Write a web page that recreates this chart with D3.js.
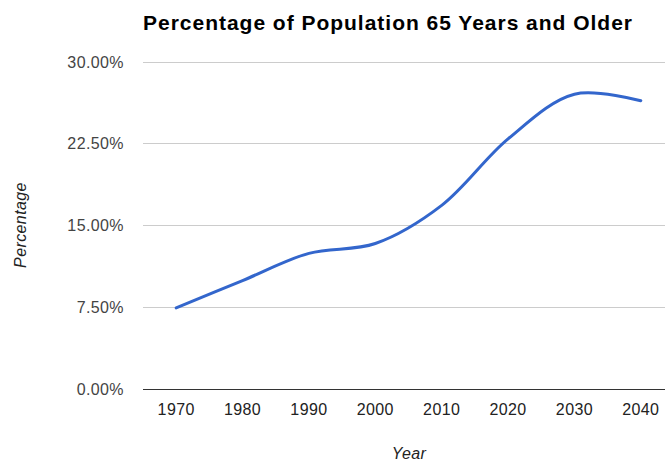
<!DOCTYPE html>
<html><head><meta charset="utf-8">
<script src="https://cdn.jsdelivr.net/npm/d3@7"></script>
<style>body{margin:0;background:#fff;} text{font-family:Arial,"Liberation Sans",sans-serif;}</style>
</head><body>
<svg id="c" width="665" height="462"></svg>
<script>
const years = ["1970","1980","1990","2000","2010","2020","2030","2040"];
const values = [7.4, 9.9, 12.4, 13.3, 16.8, 22.9, 27.0, 26.4];
const yTicks = [0, 7.5, 15, 22.5, 30];
const title = "Percentage of Population 65 Years and Older";

(function () {
const svg = d3.select("#c");
const mLeft = 143, mRight = 674, mTop = 61.5, mBottom = 388.5;
const x = d3.scalePoint().domain(years).range([mLeft, mRight]).padding(0.5);
const y = d3.scaleLinear().domain([0, 30]).range([mBottom, mTop]);

// gridlines
svg.append("g").selectAll("line").data(yTicks).join("line")
  .attr("x1", mLeft).attr("x2", 665)
  .attr("y1", d => Math.round(y(d)) + 0.5).attr("y2", d => Math.round(y(d)) + 0.5)
  .attr("stroke", d => d === 0 ? "#333" : "#ccc").attr("stroke-width", 1);

// y labels
svg.append("g").selectAll("text").data(yTicks).join("text")
  .attr("x", 124).attr("y", d => y(d) + 6)
  .attr("text-anchor", "end").attr("font-size", 16).attr("letter-spacing", 0.4).attr("fill", "#444")
  .text(d => d.toFixed(2) + "%");

// x labels
svg.append("g").selectAll("text").data(years).join("text")
  .attr("x", d => x(d)).attr("y", 415)
  .attr("text-anchor", "middle").attr("font-size", 16).attr("letter-spacing", 0.4).attr("fill", "#222")
  .text(d => d);

// line
const line = d3.line().x((d, i) => x(years[i])).y(d => y(d)).curve(d3.curveCatmullRom.alpha(0.5));
svg.append("path").datum(values).attr("d", line)
  .attr("fill", "none").attr("stroke", "#3366cc").attr("stroke-width", 3)
  .attr("stroke-linecap", "round");

// title
svg.append("text").attr("x", 143).attr("y", 29.5)
  .attr("font-size", 21).attr("font-weight", "bold").attr("fill", "#000")
  .attr("textLength", 489).attr("lengthAdjust", "spacing").text(title);

// axis titles
svg.append("text").attr("x", 409).attr("y", 459).attr("text-anchor", "middle")
  .attr("font-size", 16).attr("letter-spacing", 0.4).attr("font-style", "italic").attr("fill", "#222").text("Year");
svg.append("text").attr("transform", "translate(26,225) rotate(-90)").attr("text-anchor", "middle")
  .attr("font-size", 16).attr("letter-spacing", 0.4).attr("font-style", "italic").attr("fill", "#222").text("Percentage");
})();
</script>
</body></html>
